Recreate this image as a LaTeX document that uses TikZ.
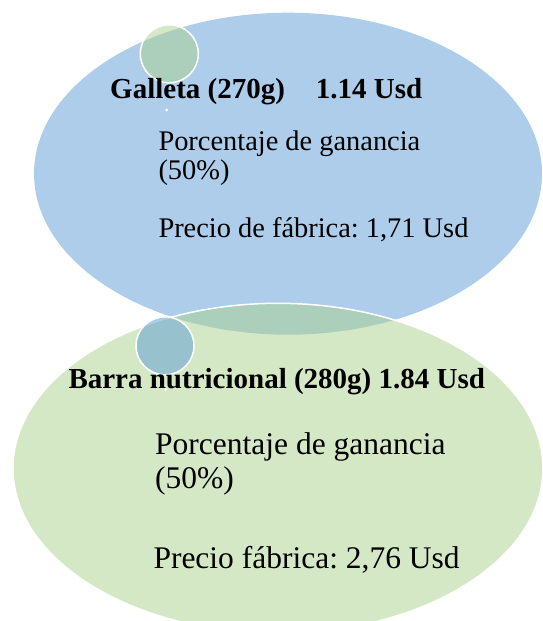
\documentclass[tikz,border=0pt]{standalone}
\usepackage{fontspec}
\setmainfont{Liberation Serif}
\frenchspacing
\usetikzlibrary{shapes.geometric,positioning}

\definecolor{ovblue}{RGB}{91,155,213}
\definecolor{ovgreen}{RGB}{169,209,142}

\tikzset{
  oval/.style={ellipse, inner sep=0pt, outer sep=0pt, fill opacity=0.5},
  bubble/.style={circle, minimum size=58pt, inner sep=0pt, draw=white,
                 line width=1.5pt, fill opacity=0.5},
  speck/.style={circle, fill=white, minimum size=3pt, inner sep=0pt},
  title/.style={anchor=base west, inner sep=0pt,
                font=\fontsize{29}{29}\selectfont\bfseries},
  topline/.style={anchor=base west, inner sep=0pt,
                  font=\fontsize{28.4}{28.4}\selectfont},
  lowline/.style={anchor=base west, inner sep=0pt,
                  font=\fontsize{31.5}{31.5}\selectfont}
}

\begin{document}
\begin{tikzpicture}[x=1pt,y=-1pt]
  \useasboundingbox (0,0) rectangle (542,621);
  \clip (0,0) rectangle (542,621);

  % the two ovals
  \node[oval, fill=ovblue, minimum width=508pt, minimum height=322pt] (galleta) at (288,173.7) {};
  \node[oval, fill=ovgreen, draw=white, line width=1.5pt,
        minimum width=530pt, minimum height=330pt] (barra) at (278,468.3) {};

  % little circles
  \node[bubble, fill=ovgreen] (gbubble) at (169.3,53.8) {};
  \node[bubble, fill=ovblue] (bbubble) at (165,345.8) {};
  \node[speck] (gspeck) at (166.7,110) {};
  \node[speck] (bspeck) at (165.7,389.3) {};

  % galleta
  \node[title] (gtitle) at (110,98.3) {Galleta (270g)\hspace{31pt}1.14 Usd};
  \node[topline] (gpct) at (158.3,150.7) {Porcentaje de ganancia};
  \node[topline] (gpctval) at ([yshift=-28.6pt]gpct.base west) {(50\%)};
  \node[topline] (gprice) at ([yshift=-86.6pt]gpct.base west) {Precio de fábrica: 1,71 Usd};

  % barra
  \node[title] (btitle) at (68.3,388.3) {Barra nutricional (280g) 1.84 Usd};
  \node[lowline] (bpct) at (155,454.3) {Porcentaje de ganancia};
  \node[lowline] (bpctval) at ([yshift=-34pt]bpct.base west) {(50\%)};
  \node[lowline] (bprice) at ([xshift=-1.7pt,yshift=-114pt]bpct.base west) {Precio fábrica: 2,76 Usd};
\end{tikzpicture}
\end{document}
